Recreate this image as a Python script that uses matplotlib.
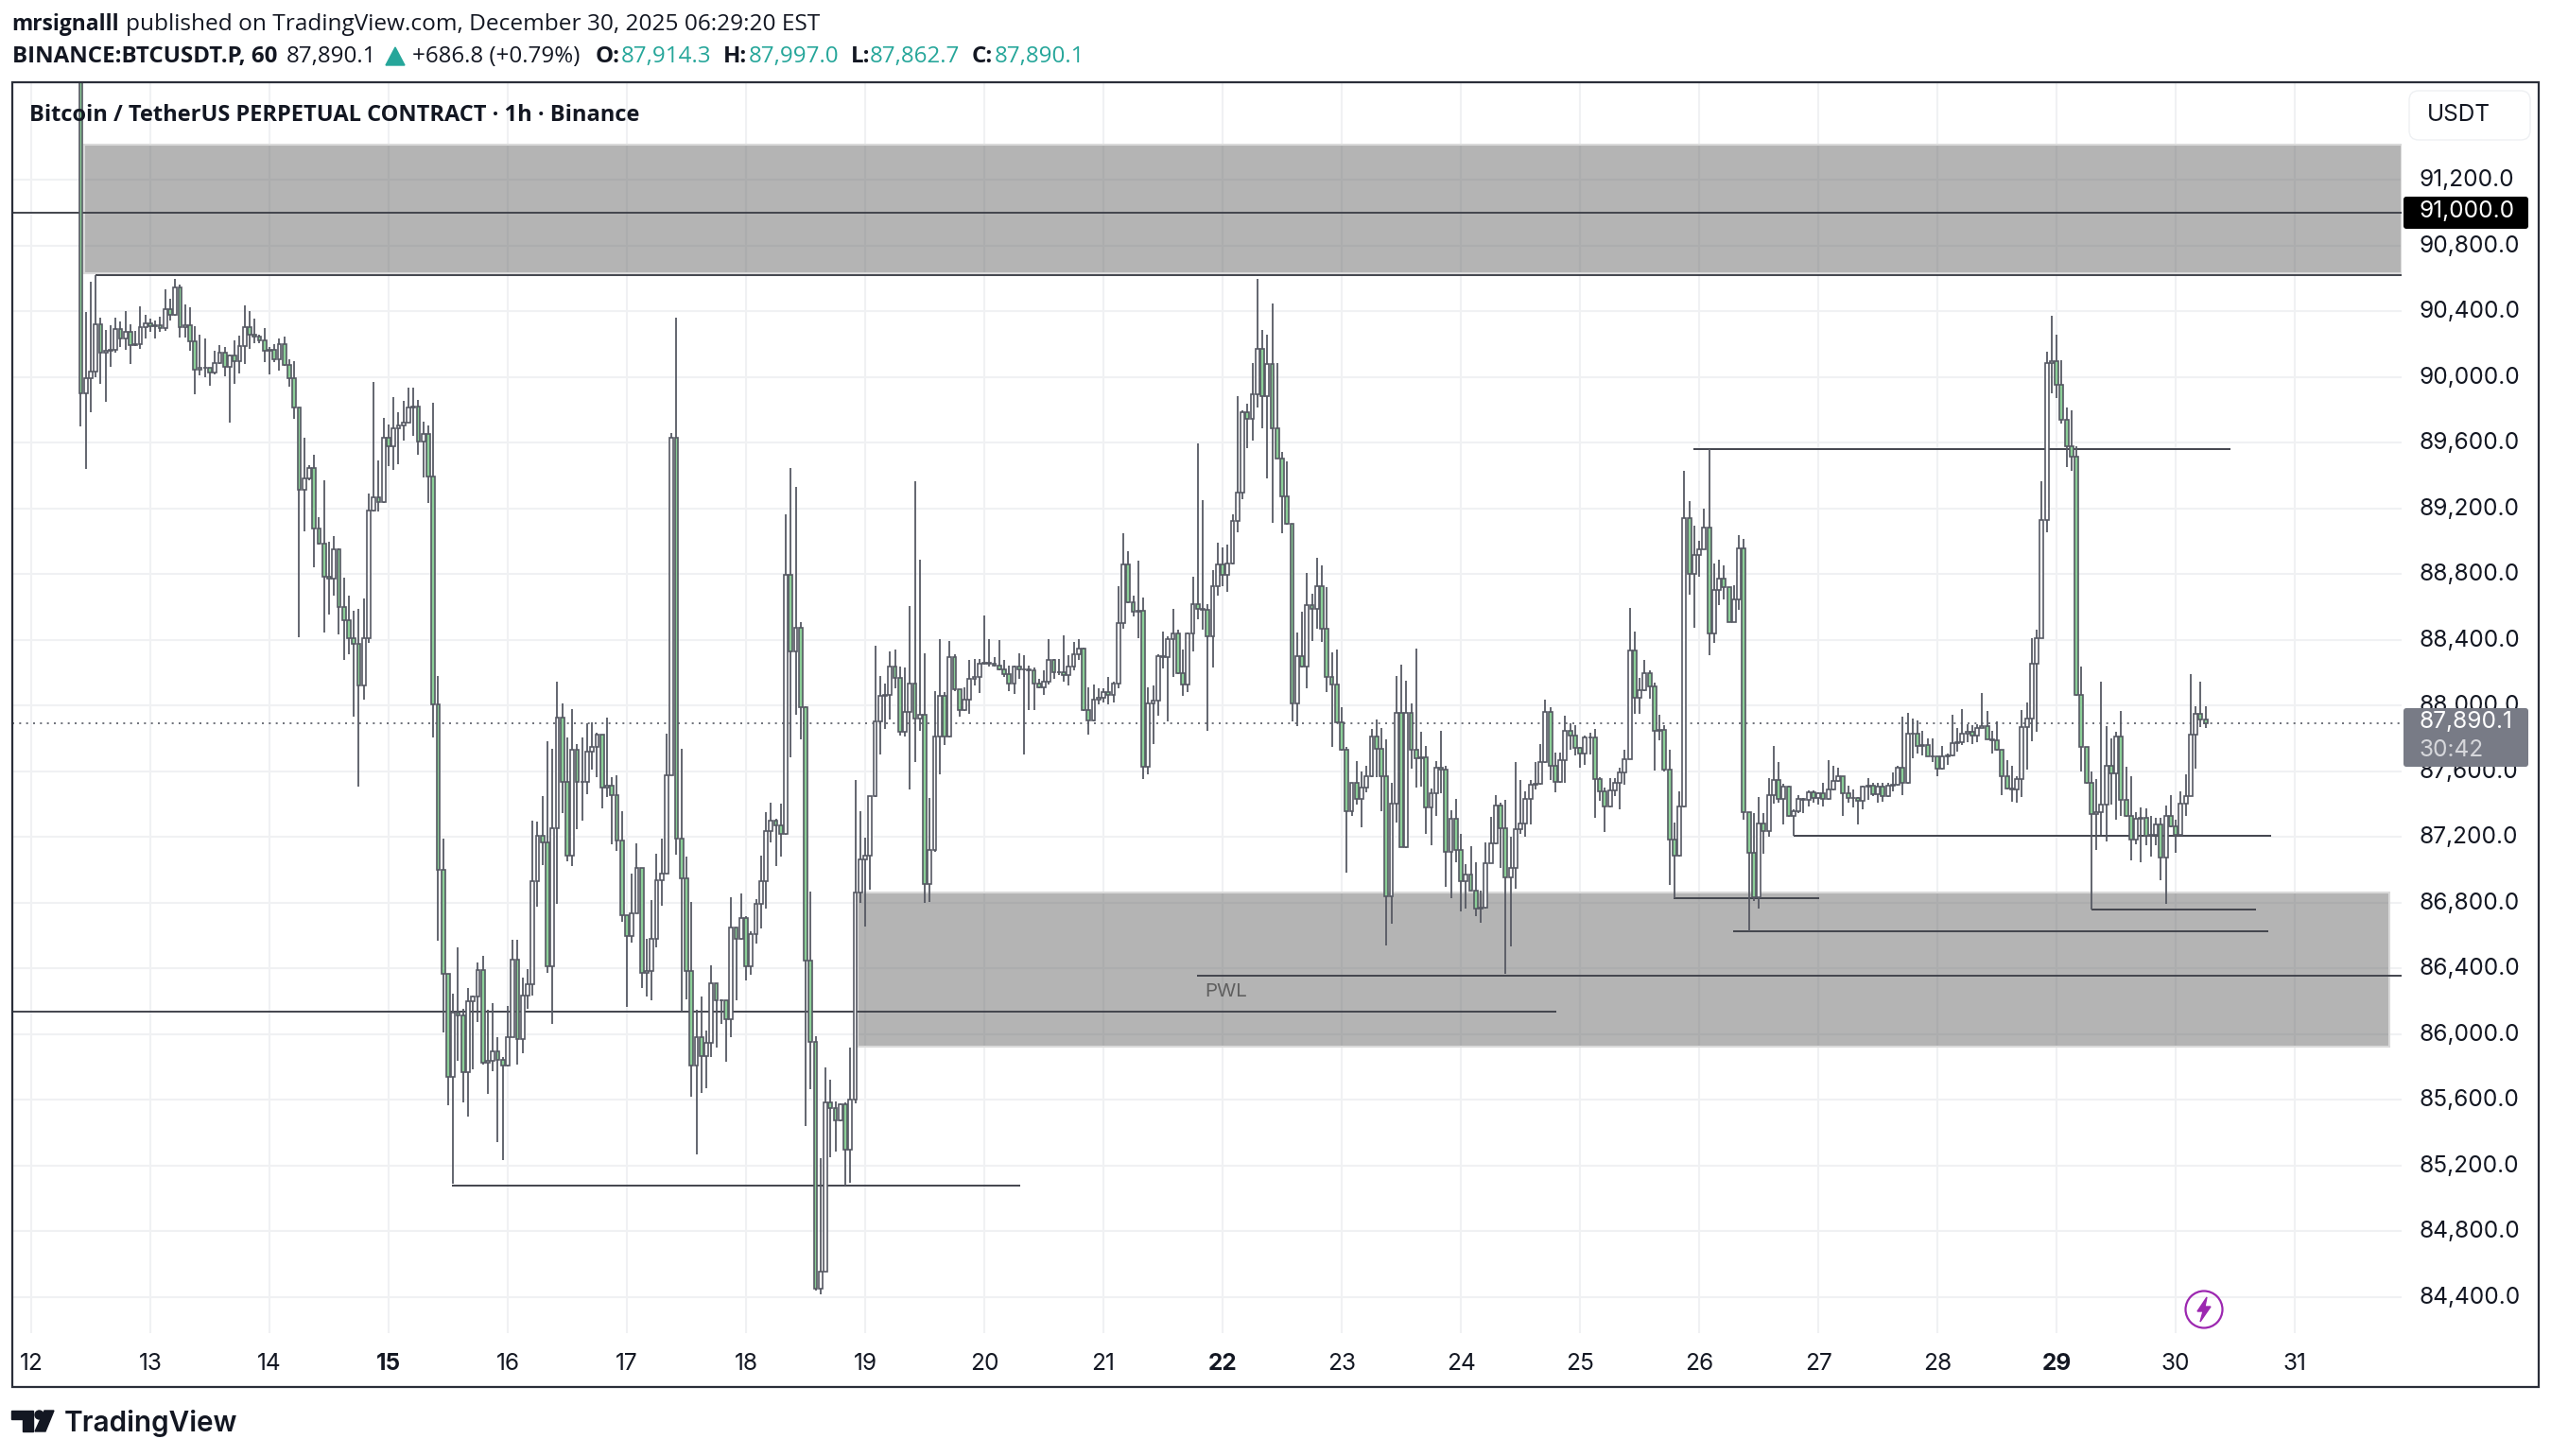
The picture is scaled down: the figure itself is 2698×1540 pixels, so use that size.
import matplotlib
matplotlib.use("Agg")
import matplotlib.pyplot as plt
from matplotlib.patches import Rectangle, FancyBboxPatch, Circle, Polygon
from matplotlib.transforms import ScaledTranslation

W, H = 2698, 1540

closes = [
89900,89993,90034,90318,90147,90158,90162,90291,90234,90271,
90193,90199,90301,90326,90306,90312,90295,90410,90377,90544,
90303,90312,90213,90045,90055,90055,90024,90082,90145,90061,
90131,90094,90188,90301,90254,90244,90219,90158,90162,90106,
90199,90071,89989,89815,89313,89379,89445,89075,88987,88781,
88771,88950,88597,88519,88406,88375,88120,88410,89186,89264,
89240,89630,89576,89685,89702,89720,89813,89817,89607,89650,
89391,88005,86997,86367,85740,86129,86112,85766,86201,86228,
86386,85825,85838,85891,85842,85805,85980,86452,85970,86234,
86300,86931,87208,87168,86409,87251,87927,87535,87086,87729,
87535,87535,87720,87746,87822,87498,87508,87456,87178,86723,
86597,86733,87010,86373,86380,86581,86937,86977,87574,89627,
87191,86947,86383,85805,85980,85865,85947,86307,86205,86205,
86089,86647,86581,86706,86409,86607,86789,86931,87234,87300,
87267,87218,88795,88330,88472,87987,86446,85951,84449,84555,
85581,85548,85472,85571,85297,85598,86858,87063,87083,87446,
87904,88056,88063,88234,88168,87838,87960,88135,87921,87941,
86914,87122,87809,88056,87809,88294,88096,87970,88036,88162,
88172,88251,88257,88254,88244,88218,88191,88135,88238,88221,
88218,88211,88135,88112,88145,88277,88201,88201,88185,88238,
88310,88343,87974,87908,88036,88046,88079,88063,88135,88502,
88855,88630,88568,88574,87627,88013,88028,88301,88293,88404,
88440,88198,88128,88440,88613,88585,88580,88421,88725,88856,
88794,88864,89123,89296,89784,89742,89895,90168,89881,90076,
89689,89505,89271,89104,88014,88301,88237,88608,88588,88725,
88468,88170,88128,87897,87730,87353,87526,87431,87498,87571,
87808,87738,87568,86838,87404,87953,87139,87953,87730,87680,
87685,87381,87465,87618,87610,87108,87312,87117,86927,86972,
86874,86760,86768,87041,87158,87390,87250,86955,87012,87246,
87279,87433,87515,87523,87653,87961,87632,87534,87667,87844,
87817,87741,87704,87803,87807,87550,87478,87386,87484,87530,
87591,87673,88335,88047,88090,88193,88115,87844,87848,87608,
87185,87084,87386,89142,88799,88916,88947,89080,88437,88700,
88772,88717,88509,88643,88953,87349,87102,86831,87283,87236,
87454,87546,87431,87505,87324,87355,87431,87427,87472,87437,
87464,87431,87489,87540,87571,87464,87437,87437,87417,87505,
87509,87458,87503,87450,87510,87517,87619,87527,87825,87825,
87752,87760,87692,87692,87614,87692,87697,87769,87774,87825,
87837,87818,87861,87873,87794,87789,87728,87571,87493,87488,
87551,87866,87917,88256,88411,89129,90086,90096,89950,89737,
89577,89516,88063,87745,87527,87340,87352,87394,87631,87588,
87808,87425,87328,87183,87309,87316,87207,87212,87275,87074,
87328,87261,87212,87401,87450,87820,87951,87914,87890]

highs = [
92500,90394,90579,90620,90357,90287,90312,90357,90338,90398,
90322,90281,90431,90377,90353,90342,90363,90533,90472,90595,
90562,90441,90425,90306,90256,90234,90055,90158,90193,90184,
90137,90219,90250,90435,90400,90353,90254,90297,90184,90199,
90234,90244,90106,90094,89815,89630,89459,89527,89145,89371,
88993,89028,88956,88779,88669,88576,88586,88652,89291,89969,
89490,89747,89710,89876,89782,89854,89936,89936,89860,89726,
89706,89843,88181,87191,86360,86244,86525,86155,86277,86235,
86436,86475,86145,86188,85980,85858,86168,86574,86574,86343,
86393,87300,87290,87449,87779,87736,88142,88010,87802,87977,
87762,87805,87891,87894,87835,87822,87924,87561,87574,87356,
86716,86977,87162,87010,86581,86812,87096,87191,87828,89660,
90360,87736,87079,86805,86145,86228,86023,86419,86310,86210,
86205,86832,86647,86855,86716,86624,86822,87086,87350,87409,
87310,87399,89165,89445,89330,88505,87997,86865,85984,85241,
85796,85720,85588,85575,85581,85918,87545,87353,87195,87450,
88360,88178,88135,88327,88337,88238,88228,88607,89366,88888,
88317,87436,88089,88403,88079,88389,88310,88096,88112,88277,
88284,88284,88548,88403,88294,88396,88277,88244,88244,88317,
88304,88244,88228,88162,88211,88403,88284,88284,88426,88304,
88386,88403,88350,88112,88129,88106,88106,88172,88145,88723,
89046,88937,88667,88881,88657,88112,88120,88310,88449,88421,
88588,88460,88337,88445,88783,89597,89248,88616,88822,88992,
88962,88978,89165,89881,89798,89834,90085,90595,90285,90257,
90447,90085,89541,89485,89100,88446,88571,88803,88677,88900,
88853,88719,88320,88337,87986,87744,87530,87660,87596,87632,
87855,87911,87861,87791,87526,88176,88245,88148,88014,88348,
87836,87752,87493,87660,87847,87632,87359,87429,87220,87033,
87144,87047,86871,87164,87320,87451,87410,87423,87200,87657,
87544,87478,87544,87653,87762,88033,87986,87710,87714,87934,
87889,87880,87745,87813,87834,87858,87565,87499,87554,87554,
87620,87731,88594,88450,88166,88279,88214,88136,87945,87879,
87731,87289,87478,89430,89245,89095,89004,89200,89559,88865,
88889,88854,88720,88731,89035,89013,87345,87345,87441,87345,
87554,87751,87657,87524,87509,87365,87452,87435,87480,87480,
87472,87526,87667,87632,87622,87571,87513,87489,87440,87513,
87554,87530,87530,87527,87527,87590,87631,87929,87954,87917,
87910,87844,87800,87801,87680,87752,87705,87941,87861,87975,
87886,87880,87886,88075,87966,87842,87905,87728,87668,87631,
87570,87970,88019,88411,88462,89364,90151,90374,90255,90098,
89812,89793,89577,88237,87745,87600,87550,88145,87874,87801,
87840,87966,87624,87571,87348,87377,87372,87328,87316,87316,
87389,87454,87304,87479,87578,88189,87995,88145,87997]

lows = [
89695,89439,89782,90000,89956,89850,90061,90147,90184,90164,
90080,90188,90172,90234,90271,90234,90275,90281,90342,90373,
90240,90240,90158,89891,90008,90000,89946,90014,90075,90004,
89720,89958,90020,90075,90172,90205,90205,90090,90012,90090,
90038,90065,89942,89743,88416,89059,89367,88843,88977,88442,
88555,88668,88432,88278,88310,87929,87505,88032,88381,89182,
89182,89233,89455,89435,89465,89609,89722,89640,89527,89387,
89233,87806,86568,86007,85568,85090,85838,85584,85495,85782,
86070,85815,85634,85772,85343,85230,85800,85980,85815,85881,
86155,86234,86772,87030,86370,86063,86789,87343,87053,87020,
87244,87300,87459,87607,87564,87373,87442,87152,87112,86680,
86162,86558,86740,86277,86228,86205,86525,86779,86980,87580,
87092,86135,86211,85617,85266,85640,85667,85858,85914,86063,
85832,85980,86205,86570,86327,86360,86551,86640,86762,87168,
87020,87079,87211,87686,87944,87795,85439,85664,84440,84416,
84550,85248,85281,85465,85076,85093,85578,86799,86654,86875,
87440,87700,87858,87914,88106,87815,87809,87485,87657,87842,
86799,86805,87106,87578,87759,87805,88089,87931,87964,87947,
88119,88073,88248,88238,88234,88211,88172,88086,88069,88162,
87700,87974,87974,88105,88063,88129,88162,88185,88145,88119,
88211,88277,87964,87822,87905,88007,88020,88007,88020,88106,
88469,88620,88541,88409,87551,87578,87766,87939,88226,87902,
88170,88190,88056,88078,88329,88524,88463,87847,88231,88669,
88725,88691,88860,89053,89254,89563,89611,89811,89686,89382,
89109,89500,89048,89100,87902,87875,88231,88106,88393,88468,
88385,88078,87744,87890,87724,86983,87326,87395,87256,87473,
87565,87562,87353,86540,86671,87289,87135,87130,87613,87498,
87507,87220,87150,87326,87465,86894,86824,87047,86746,86760,
86870,86718,86679,86765,87036,87155,87011,86364,86531,86883,
87217,87201,87277,87489,87518,87650,87544,87472,87530,87526,
87731,87694,87622,87639,87703,87314,87417,87226,87380,87447,
87365,87519,87670,87951,87951,88085,88039,87602,87786,87600,
86909,86825,87080,87380,88676,88474,88783,88950,88306,88382,
88612,88643,88505,88505,88581,87304,86626,86811,86764,87094,
87201,87400,87410,87273,87320,87205,87345,87345,87386,87408,
87396,87382,87425,87480,87535,87328,87406,87376,87273,87365,
87427,87450,87410,87413,87442,87479,87510,87454,87520,87680,
87704,87697,87690,87655,87566,87610,87639,87690,87716,87760,
87777,87765,87777,87860,87790,87704,87724,87454,87486,87413,
87406,87442,87607,87781,87837,88410,89054,89897,89872,89715,
89448,89429,88055,87600,87520,86759,87122,87212,87171,87396,
87304,87328,87320,87055,87154,87042,87147,87079,87147,86936,
86790,87255,87105,87205,87324,87445,87614,87866,87862]

first_open = 92200
opens = [first_open] + closes[:-1]
first_hour = 10   # first candle: Dec 12, 10:00
hours = [first_hour + i for i in range(len(closes))]

day_labels = [12,13,14,15,16,17,18,19,20,21,22,23,24,25,26,27,28,29,30,31]
bold_days = [15,22,29]
price_ticks = [84400,84800,85200,85600,86000,86400,86800,87200,87600,88000,
               88400,88800,89200,89600,90000,90400,90800,91200]
last_price = 87890.1
level_price = 91000

# zones: start hour, end hour, low, high
zones = [(10.6, 477.5, 90630, 91413), (166.5, 475.0, 85922, 86860)]
# drawn levels: price, start hour, end hour
levels = [(91000,-3.8,477.5),(90620,13,477.5),(89559,334.9,443),(87205,355,451.2),
          (86825,330.8,360.2),(86626,342.9,450.7),(86759,415,448.2),
          (86356,234.9,477.5),(86135,-3.8,307.2),(85076,84.8,199.2)]

INK = '#131722'; CANDLE = '#565963'; GREEN = '#26a69a'
TEXTFONT = ['Open Sans','DejaVu Sans']
AXFONT = ['Inter','DejaVu Sans']
AXSIZE = 17.6

fig = plt.figure(figsize=(W/100, H/100), dpi=100, facecolor='white')
ax = fig.add_axes([13/W, 1-1410/H, (2540-13)/W, (1410-87)/H])
px2p = 1/0.17375
ax.set_xlim(-3.8, 477.5)
ax.set_ylim(87200-(1410-885)*px2p, 87200+(885-87)*px2p)
for s in ax.spines.values():
    s.set_visible(False)

ax.yaxis.tick_right()
ax.tick_params(axis='both', length=0)
ax.tick_params(axis='y', pad=13)
ax.tick_params(axis='x', pad=15)
ax.set_xticks([(d-12)*24 for d in day_labels])
ax.set_xticklabels([str(d) for d in day_labels], fontfamily=AXFONT, fontsize=AXSIZE, color=INK)
for lab, d in zip(ax.get_xticklabels(), day_labels):
    if d in bold_days:
        lab.set_fontweight('bold')
ax.set_yticks(price_ticks)
ax.set_yticklabels([f'{p:,.1f}' for p in price_ticks], fontfamily=AXFONT, fontsize=AXSIZE, color=INK)
up = ScaledTranslation(0, 2.0/100, fig.dpi_scale_trans)
for lab in ax.get_yticklabels():
    lab.set_transform(lab.get_transform() + up)
ax.grid(True, color='#f0f1f3', lw=1.5, zorder=0)
ax.set_axisbelow(True)

for x0, x1, lo, hi in zones:
    ax.add_patch(Rectangle((x0, lo), x1-x0, hi-lo, facecolor='#6a6a6a', alpha=0.5,
                           edgecolor='none', zorder=1))
    ax.add_patch(Rectangle((x0, lo), x1-x0, hi-lo, facecolor='none',
                           edgecolor='#dadada', lw=1.5, zorder=1.1))

ax.axhline(last_price, color=CANDLE, lw=1.2, ls=(0, (1.2, 3.2)), zorder=2)
for p, x0, x1 in levels:
    ax.plot([x0, x1], [p, p], color='#42444d', lw=1.4, solid_capstyle='butt', zorder=2.2)

ax.vlines(hours, lows, highs, color=CANDLE, lw=1.3, zorder=3)
bottoms = [min(o, c) for o, c in zip(opens, closes)]
heights = [abs(o-c) for o, c in zip(opens, closes)]
fills = ['#8bcf97' if c < o else 'white' for o, c in zip(opens, closes)]
ax.bar(hours, heights, bottom=bottoms, width=0.74, color=fills, edgecolor=CANDLE,
       linewidth=1.2, zorder=3.5)

ax.text(236.4, 86256, 'PWL', color='#5f5f5f', fontsize=14.8, fontfamily=AXFONT,
        va='center', ha='left', zorder=4)

# chrome, in figure pixels
ov = fig.add_axes([0, 0, 1, 1], zorder=10)
ov.set_xlim(0, W); ov.set_ylim(H, 0); ov.axis('off')
ov.patch.set_visible(False)

ov.add_patch(Rectangle((13, 87), 2685-13, 1467-87, fill=False, edgecolor='#2a2e39', lw=1.6))

def put(x, y, s, **kw):
    kw.setdefault('fontfamily', TEXTFONT); kw.setdefault('fontsize', 17.4)
    kw.setdefault('color', INK); kw.setdefault('va', 'center')
    return ov.text(x, y, s, **kw)

put(12, 26, 'mrsignalll', fontweight='bold', fontsize=16.4)
put(133, 26, 'published on TradingView.com, December 30, 2025 06:29:20 EST', fontsize=17.6)
put(13, 60, 'BINANCE:BTCUSDT.P, 60', fontweight='bold')
put(303, 60, '87,890.1')
ov.add_patch(Polygon([(408,69),(428,69),(418,50)], closed=True, color=GREEN))
put(436, 60, '+686.8 (+0.79%)')
for x, lab, xv, val in [(630,'O:',657,'87,914.3'),(765,'H:',792,'87,997.0'),
                        (900,'L:',920,'87,862.7'),(1028,'C:',1052,'87,890.1')]:
    put(x, 60, lab, fontweight='bold')
    put(xv, 60, val, color=GREEN)

put(31, 122, 'Bitcoin / TetherUS PERPETUAL CONTRACT · 1h · Binance', fontweight='bold', fontsize=17.0)

ov.add_patch(FancyBboxPatch((2554, 102), 116, 40, boxstyle='round,pad=6,rounding_size=10',
                            facecolor='white', edgecolor='#eef0f3', lw=1))
put(2567, 122, 'USDT', fontfamily=AXFONT, fontsize=AXSIZE)

ov.add_patch(FancyBboxPatch((2542, 208), 132, 34, boxstyle='round,pad=0,rounding_size=3',
                            facecolor='black', edgecolor='none'))
put(2559, 224, f'{level_price:,.1f}', color='white', fontfamily=AXFONT, fontsize=AXSIZE)
ov.add_patch(FancyBboxPatch((2542, 749), 132, 62, boxstyle='round,pad=0,rounding_size=3',
                            facecolor='#787b86', edgecolor='none'))
put(2558, 764, f'{last_price:,.1f}', color='white', fontfamily=AXFONT, fontsize=AXSIZE)
put(2558, 793, '30:42', color='#d6d7db', fontfamily=AXFONT, fontsize=AXSIZE)

# lightning mark
ov.add_patch(Circle((2331, 1385), 19.5, fill=False, edgecolor='#9c27b0', lw=1.6))
ov.add_patch(Polygon([(2334,1372),(2324,1387),(2330,1387),(2327,1398),(2338,1382),(2332,1382)],
                     closed=True, color='#9c27b0'))

# TradingView mark
ov.add_patch(Polygon([(12,1492),(35,1492),(35,1514),(24,1514),(24,1501),(12,1501)], closed=True, color=INK))
ov.add_patch(Circle((41.5,1496.5), 4.5, color=INK))
ov.add_patch(Polygon([(47,1492),(57,1492),(48,1514),(37,1514)], closed=True, color=INK))
put(68, 1505, 'TradingView', fontfamily=['Inter','DejaVu Sans'], fontweight='semibold', fontsize=21.4)

fig.savefig('out.png', dpi=100, facecolor='white')
